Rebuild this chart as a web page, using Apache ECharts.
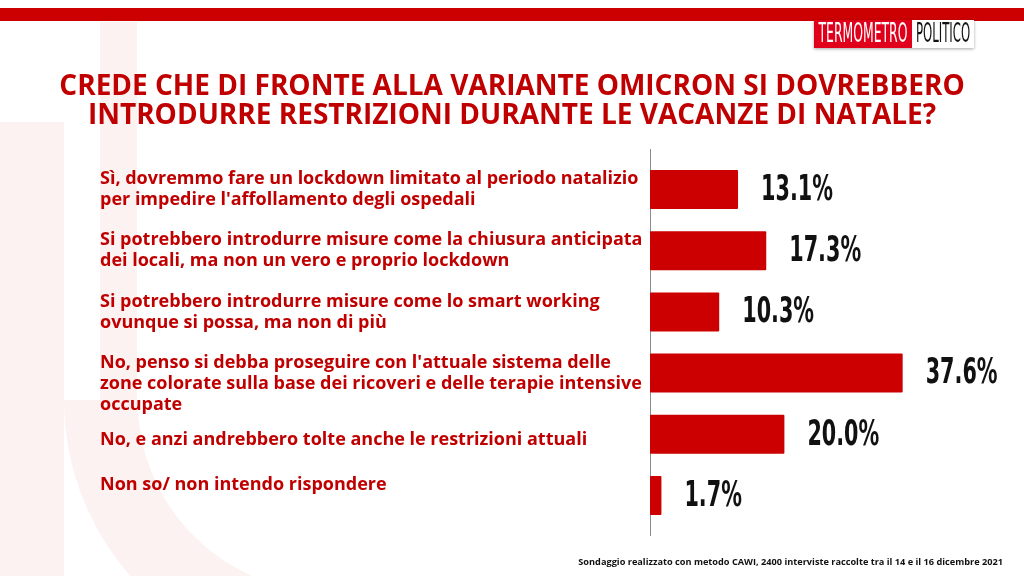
<!DOCTYPE html>
<html>
<head>
<meta charset="utf-8">
<script src="https://cdn.jsdelivr.net/npm/echarts@6/dist/echarts.min.js"></script>
<style>
  html, body { margin: 0; padding: 0; background: #ffffff; }
  #chart { width: 1024px; height: 576px; }
</style>
</head>
<body>
<div id="chart"></div>
<script>
// ---- data ----
var titleLines = [
  'CREDE CHE DI FRONTE ALLA VARIANTE OMICRON SI DOVREBBERO',
  'INTRODURRE RESTRIZIONI DURANTE LE VACANZE DI NATALE?'
];
var categories = [
  'Sì, dovremmo fare un lockdown limitato al periodo natalizio\nper impedire l\'affollamento degli ospedali',
  'Si potrebbero introdurre misure come la chiusura anticipata\ndei locali, ma non un vero e proprio lockdown',
  'Si potrebbero introdurre misure come lo smart working\novunque si possa, ma non di più',
  'No, penso si debba proseguire con l\'attuale sistema delle\nzone colorate sulla base dei ricoveri e delle terapie intensive\noccupate',
  'No, e anzi andrebbero tolte anche le restrizioni attuali',
  'Non so/ non intendo rispondere'
];
var values = [13.1, 17.3, 10.3, 37.6, 20.0, 1.7];
var footnote = 'Sondaggio realizzato con metodo CAWI, 2400 interviste raccolte tra il 14 e il 16 dicembre 2021';

var RED = '#cc0000';
var TEXT_RED = '#c00000';
var WM = '#fdf2f2';

var chart = echarts.init(document.getElementById('chart'), null, { renderer: 'canvas' });

var labelFont = "'Open Sans', 'Noto Sans', sans-serif";
var narrowFont = "'DejaVu Sans Condensed', 'DejaVu Sans', sans-serif";

function fmtLabel(value, index) {
  if (index === 3) return '\n' + value;
  if (index === 4) return '{gap| }\n{t|' + value + '}';
  if (index === 5) return value + '\n';
  return value;
}

var option = {
  backgroundColor: '#ffffff',
  animation: false,
  graphic: [
    // faint watermark shapes
    { type: 'rect', z: -10, silent: true, shape: { x: 0, y: 122, width: 64, height: 454 }, style: { fill: WM } },
    { type: 'rect', z: -10, silent: true, shape: { x: 100, y: 22, width: 37, height: 379 }, style: { fill: WM } },
    { type: 'arc', z: -10, silent: true, shape: { cx: 330, cy: 400, r: 211, startAngle: Math.PI, endAngle: Math.PI / 2, clockwise: false }, style: { stroke: WM, lineWidth: 37, fill: null } },
    { type: 'sector', z: -11, silent: true, shape: { cx: 330, cy: 400, r0: 0, r: 266, startAngle: Math.PI / 2, endAngle: Math.PI }, style: { fill: WM } },
    { type: 'sector', z: -10.5, silent: true, shape: { cx: 330, cy: 400, r0: 0, r: 229, startAngle: Math.PI / 2, endAngle: Math.PI }, style: { fill: '#ffffff' } },
    // top band
    { type: 'rect', shape: { x: 0, y: 8, width: 1024, height: 13 }, style: { fill: RED } },
    // logo
    { type: 'rect', shape: { x: 814, y: 20, width: 160, height: 28 }, style: { fill: '#ffffff', shadowBlur: 3, shadowColor: 'rgba(0,0,0,0.35)', shadowOffsetY: 1 } },
    { type: 'rect', shape: { x: 814, y: 20, width: 98, height: 28 }, style: { fill: '#e0001b' } },
    { type: 'text', x: 863, y: 35, scaleX: 0.53, style: { x: 0, y: 0, text: 'TERMOMETRO', fill: '#ffffff', font: "26px " + narrowFont, align: 'center', verticalAlign: 'middle' } },
    { type: 'text', x: 943, y: 35, scaleX: 0.5, style: { x: 0, y: 0, text: 'POLITICO', fill: '#111111', font: "26px " + narrowFont, align: 'center', verticalAlign: 'middle' } },
    // title
    { type: 'text', style: { x: 512, y: 87, text: titleLines[0], fill: TEXT_RED, font: "bold 28px 'Open Sans', sans-serif", align: 'center', verticalAlign: 'middle' } },
    { type: 'text', style: { x: 512, y: 116, text: titleLines[1], fill: TEXT_RED, font: "bold 28px 'Open Sans', sans-serif", align: 'center', verticalAlign: 'middle' } },
    // axis line extension
    { type: 'line', shape: { x1: 650.5, y1: 149, x2: 650.5, y2: 536 }, style: { stroke: '#8c8c8c', lineWidth: 1 } },
    // footnote
    { type: 'text', style: { x: 1003, y: 562, text: footnote, fill: '#111111', font: "bold 9.2px 'Open Sans', sans-serif", align: 'right', verticalAlign: 'middle' } }
  ],
  grid: { left: 650, right: 38, top: 159, bottom: 50, containLabel: false },
  xAxis: {
    type: 'value', min: 0, max: 50,
    show: false,
    splitLine: { show: false }
  },
  yAxis: {
    type: 'category',
    inverse: true,
    data: categories,
    axisLine: { show: false },
    axisTick: { show: false },
    axisLabel: {
      align: 'left',
      margin: 550,
      color: TEXT_RED,
      fontFamily: labelFont,
      fontWeight: 'bold',
      fontSize: 18,
      lineHeight: 21,
      formatter: fmtLabel,
      rich: {
        gap: { lineHeight: 11, fontSize: 1 },
        t: { color: TEXT_RED, fontFamily: labelFont, fontWeight: 'bold', fontSize: 18, lineHeight: 21 }
      }
    }
  },
  series: [{
    type: 'bar',
    data: values,
    barWidth: 39,
    itemStyle: { color: RED, borderRadius: 1 }
  }, {
    // condensed value labels positioned through the chart's own scales
    type: 'custom',
    data: values.map(function (v, i) { return [v, i]; }),
    encode: { x: 0, y: 1 },
    z: 5,
    renderItem: function (params, api) {
      var p = api.coord([api.value(0), api.value(1)]);
      return {
        type: 'text',
        x: p[0] + 23,
        y: p[1] + 1,
        scaleX: 0.64,
        style: {
          x: 0, y: 0,
          text: api.value(0).toFixed(1) + '%',
          fill: '#111111',
          font: 'bold 36px ' + narrowFont,
          align: 'left',
          verticalAlign: 'middle'
        }
      };
    }
  }]
};
chart.setOption(option);
</script>
</body>
</html>
